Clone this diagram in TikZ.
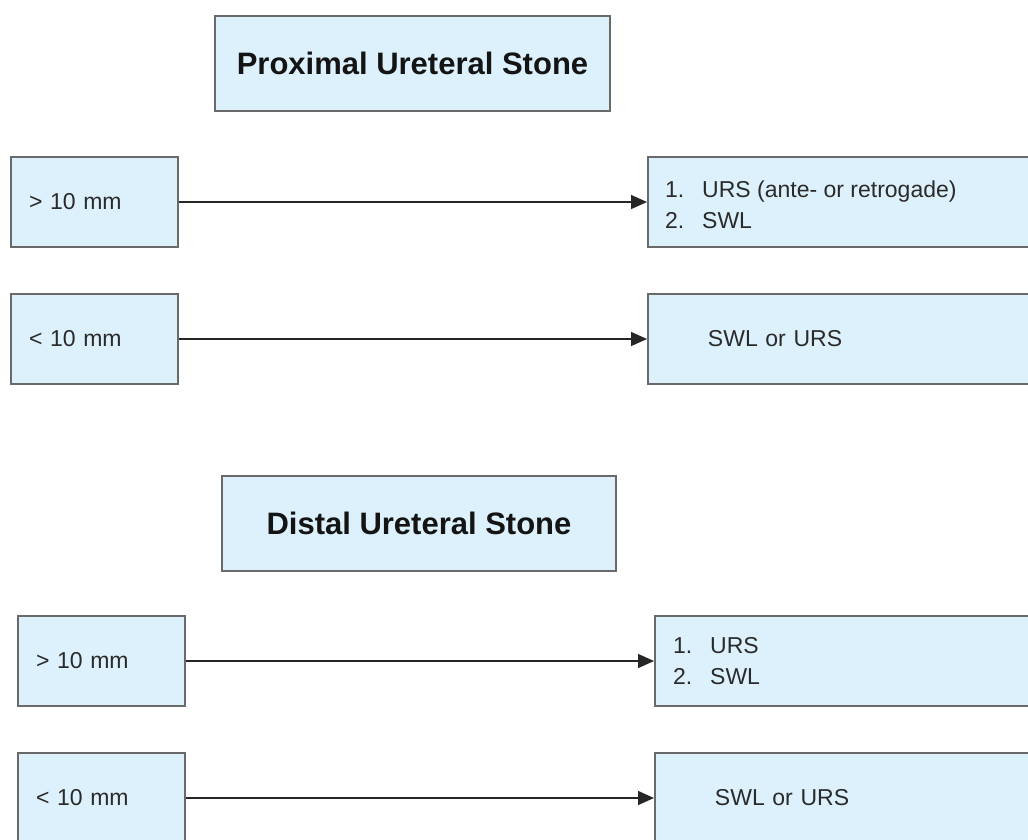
\documentclass[tikz,border=0pt]{standalone}
\usepackage{fontspec}
\setmainfont{Liberation Sans}
\usetikzlibrary{arrows.meta}
\definecolor{boxfill}{HTML}{DDF1FC}
\definecolor{boxline}{HTML}{6A6A6A}
\definecolor{txt}{HTML}{2A2A2A}
\begin{document}
\begin{tikzpicture}[x=1pt,y=-1pt,
  box/.style={draw=boxline,fill=boxfill,line width=1.9pt,minimum height=90pt,
    inner ysep=0pt,text=txt,font=\fontsize{23}{30}\selectfont},
  titlebox/.style={draw=boxline,fill=boxfill,line width=1.9pt,minimum width=395pt,
    minimum height=95pt,inner sep=0pt,font=\fontsize{31}{36}\selectfont\bfseries,text=black!92},
  sizebox/.style={box,text width=131pt,inner xsep=18pt,align=left},
  listbox/.style={box,minimum width=420pt},
  listtext/.style={inner sep=0pt,text=txt,align=left,font=\fontsize{23}{30.5}\selectfont},
  choicebox/.style={box,text width=340pt,inner xsep=60pt,align=left},
  arr/.style={line width=1.4pt,draw=black!85,-{Triangle[length=16pt,width=14pt]}}]
\useasboundingbox (0,0) rectangle (1028,839);

\newcommand{\itm}[2]{\makebox[37pt][l]{#1}#2}

% Proximal ureteral stone
\node[titlebox] (t1) at (412.5,63.5) {Proximal Ureteral Stone};
\node[sizebox] (p1) at (94.5,202) {> 10 mm};
\node[sizebox] (p2) at (94.5,339) {< 10 mm};
\node[listbox,anchor=west] (q1) at (647,202) {};
\node[listtext,anchor=west] (q1t) at ([xshift=18pt,yshift=-3pt]q1.west)
  {\itm{1.}{URS (ante- or retrogade)}\\\itm{2.}{SWL}};
\node[choicebox,anchor=west] (q2) at (647,339) {SWL or URS};
\draw[arr] (p1) -- (q1);
\draw[arr] (p2) -- (q2);

% Distal ureteral stone
\node[titlebox,minimum width=394pt] (t2) at (419,523.5) {Distal Ureteral Stone};
\node[sizebox] (d1) at (101.5,661) {> 10 mm};
\node[sizebox] (d2) at (101.5,798) {< 10 mm};
\node[listbox,anchor=west] (e1) at (654,661) {};
\node[listtext,anchor=west] (e1t) at ([xshift=19pt]e1.west)
  {\itm{1.}{URS}\\\itm{2.}{SWL}};
\node[choicebox,anchor=west] (e2) at (654,798) {SWL or URS};
\draw[arr] (d1) -- (e1);
\draw[arr] (d2) -- (e2);
\end{tikzpicture}
\end{document}
